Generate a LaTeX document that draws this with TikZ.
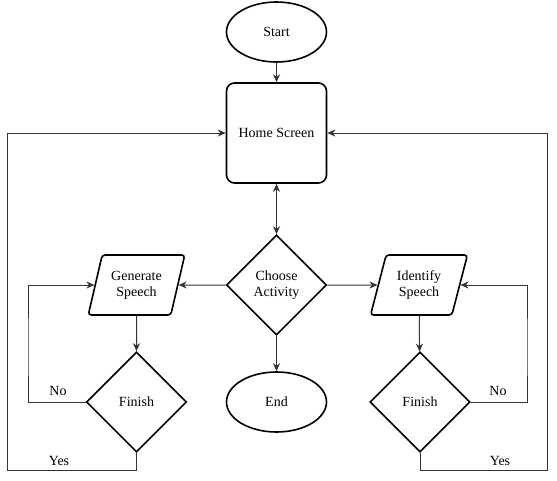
\documentclass[tikz,border=0pt]{standalone}
\usepackage{fontspec}
\setmainfont{Liberation Serif}
\usetikzlibrary{shapes.geometric,arrows.meta}
\begin{document}
\begin{tikzpicture}[x=1pt,y=-1pt,
  every node/.style={font=\fontsize{14}{16}\selectfont},
  shp/.style={draw=black,line width=1.6pt,inner sep=0pt,align=center},
  term/.style={shp,ellipse,minimum width=100pt,minimum height=60pt},
  proc/.style={shp,rectangle,rounded corners=8pt,minimum width=100pt,minimum height=100pt},
  dec/.style={shp,diamond,minimum width=100pt,minimum height=100pt},
  io/.style={shp,trapezium,trapezium left angle=70,trapezium right angle=110,trapezium stretches=true,minimum width=97pt,minimum height=60pt,rounded corners=3pt},
  tip/.tip={Stealth[length=8pt,width=7pt,inset=2.5pt]},
  conn/.style={draw=black!80,line width=1pt,-tip},
  lbl/.style={inner sep=0pt}]
\useasboundingbox (0,0) rectangle (557,480);
\node[term] (start) at (276.5,32) {Start};
\node[proc] (home) at (276.5,133) {Home Screen};
\node[dec] (choose) at (276.5,285) {Choose\\Activity};
\node[term] (end) at (276.5,402) {End};
\node[io] (gen) at (136.5,285) {Generate\\Speech};
\node[io] (idf) at (419,285) {Identify\\Speech};
\node[dec] (finl) at (136.5,402) {Finish};
\node[dec] (finr) at (420,402) {Finish};
\coordinate (lnoc) at (28,350);
\coordinate (lyes) at (7,470);
\coordinate (rnoc) at (527,350);
\coordinate (ryes) at (547,470);
\draw[conn] (start) -- (home);
\draw[conn,tip-tip] (home) -- (choose);
\draw[conn] (choose) -- (end);
\draw[conn] (choose.west) -- (gen.east);
\draw[conn] (choose.east) -- (idf.west);
\draw[conn] (gen) -- (finl);
\draw[conn] (idf) -- (finr);
\draw[conn] (finl.west) -| (lnoc) |- (gen.west);
\draw[conn] (finl.south) |- (lyes) |- (home.west);
\draw[conn] (finr.east) -| (rnoc) |- (idf.east);
\draw[conn] (finr.south) |- (ryes) |- (home.east);
\node[lbl] (nol) at (58,391) {No};
\node[lbl] (yesl) at (59,461) {Yes};
\node[lbl] (nor) at (498,391) {No};
\node[lbl] (yesr) at (500,461) {Yes};
\end{tikzpicture}
\end{document}
